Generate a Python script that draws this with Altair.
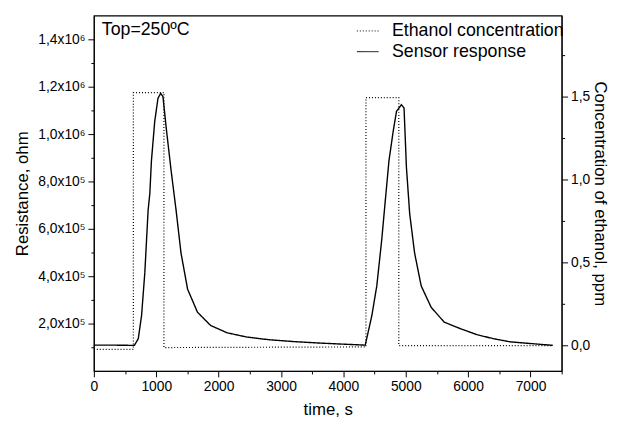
import altair as alt
import pandas as pd

# ---- data ----
sensor_t = [0, 300, 600, 649, 712, 765, 817, 870, 897, 923, 976, 1028, 1071, 1108,
            1160, 1239, 1318, 1397, 1503, 1661, 1872, 2136, 2453, 2800, 3200, 3600,
            4000, 4351, 4457, 4536, 4615, 4668, 4731, 4799, 4852, 4931, 4973, 5011,
            5063, 5142, 5248, 5407, 5617, 5881, 6144, 6408, 6672, 6988, 7358]
sensor_r = [1.09e5, 1.09e5, 1.08e5, 1.08e5, 1.36e5, 2.34e5, 4.15e5, 6.79e5, 7.48e5,
            8.87e5, 1.054e6, 1.151e6, 1.172e6, 1.158e6, 1.026e6, 8.45e5, 6.79e5,
            4.98e5, 3.45e5, 2.48e5, 1.92e5, 1.61e5, 1.43e5, 1.32e5, 1.24e5, 1.18e5,
            1.13e5, 1.09e5, 2.34e5, 3.59e5, 5.53e5, 7.07e5, 8.87e5, 1.012e6, 1.096e6,
            1.124e6, 1.110e6, 8.6e5, 6.65e5, 4.98e5, 3.59e5, 2.69e5, 2.06e5, 1.78e5,
            1.53e5, 1.36e5, 1.23e5, 1.16e5, 1.08e5]

eth_t = [0, 633, 633, 1123, 1123, 4362, 4362, 4889, 4889, 7358]
eth_c = [-0.023, -0.023, 1.526, 1.526, -0.012, -0.008, 1.496, 1.496, 0.0, 0.0]

series_names = ["Ethanol concentration", "Sensor response"]

x_ticks = list(range(0, 7501, 500))
left_ticks = [i * 100000 for i in range(1, 15)]
right_ticks = [i * 0.25 for i in range(0, 8)]

sensor_df = pd.DataFrame({"t": sensor_t, "v": sensor_r, "i": range(len(sensor_t)),
                          "series": series_names[1]})
eth_df = pd.DataFrame({"t": eth_t, "v": eth_c, "i": range(len(eth_t)),
                       "series": series_names[0]})

FONT = "Liberation Sans"

x_enc = alt.X("t:Q", scale=alt.Scale(domain=[0, 7500], nice=False, zero=False),
              axis=alt.Axis(title="time, s", values=x_ticks,
                            labelExpr="datum.value % 1000 !== 0 ? '' : format(datum.value, 'd')",
                            tickSize={"condition": {"test": "datum.value % 1000 !== 0", "value": 3}, "value": 6},
                            titlePadding=8))

dash = alt.StrokeDash("series:N",
                      scale=alt.Scale(domain=series_names, range=[[1, 2], [1, 0]]),
                      legend=alt.Legend(title=None, orient="none", legendX=266, legendY=4,
                                        symbolType="stroke", symbolSize=484,
                                        symbolStrokeColor="black", symbolStrokeWidth=1,
                                        labelFontSize=18, labelFont=FONT, labelColor="black",
                                        labelLimit=0, rowPadding=0, labelOffset=13))

sensor = alt.Chart(sensor_df).mark_line(color="black", strokeWidth=1.4).encode(
    x=x_enc,
    y=alt.Y("v:Q", scale=alt.Scale(domain=[0, 1.5e6], nice=False, zero=False),
            axis=alt.Axis(title="Resistance, ohm", orient="left", values=left_ticks,
                          labelExpr="datum.value % 200000 !== 0 ? '' : (datum.value >= 1000000 ? replace(format(datum.value/1000000, '.1f'), '.', ',') + 'x10⁶' : replace(format(datum.value/100000, '.1f'), '.', ',') + 'x10⁵')",
                          tickSize={"condition": {"test": "datum.value % 200000 !== 0", "value": 3}, "value": 6},
                          titlePadding=6)),
    strokeDash=dash,
    order="i:Q",
)

ethanol = alt.Chart(eth_df).mark_line(color="black", strokeWidth=1.2).encode(
    x=x_enc,
    y=alt.Y("v:Q", scale=alt.Scale(domain=[-0.153, 1.99], nice=False, zero=False),
            axis=alt.Axis(title="Concentration of ethanol, ppm", orient="right",
                          values=right_ticks,
                          labelExpr="datum.value % 0.5 !== 0 ? '' : replace(format(datum.value, '.1f'), '.', ',')",
                          tickSize={"condition": {"test": "datum.value % 0.5 !== 0", "value": 3}, "value": 6},
                          titlePadding=1)),
    strokeDash=dash,
    order="i:Q",
)

note = alt.Chart(pd.DataFrame({"label": ["Top=250ºC"]})).mark_text(
    align="left", baseline="middle", fontSize=18, font=FONT, color="black"
).encode(x=alt.value(8), y=alt.value(15), text="label:N")

chart = alt.layer(sensor, ethanol, note).resolve_scale(y="independent").properties(
    width=474, height=360,
    autosize=alt.AutoSizeParams(type="none"),
    padding={"left": 87, "top": 5, "right": 51, "bottom": 50},
    background="white",
).configure_view(stroke="black", strokeWidth=1.2).configure_axis(
    domainColor="black", tickColor="black", labelColor="black", titleColor="black",
    labelFont=FONT, titleFont=FONT, labelFontSize=14, titleFontSize=17,
    titleFontWeight="normal", grid=False, labelPadding=3, labelOverlap=False,
    labelFlush=False,
)

chart.save("out.html", embed_options={"renderer": "svg", "actions": False})
